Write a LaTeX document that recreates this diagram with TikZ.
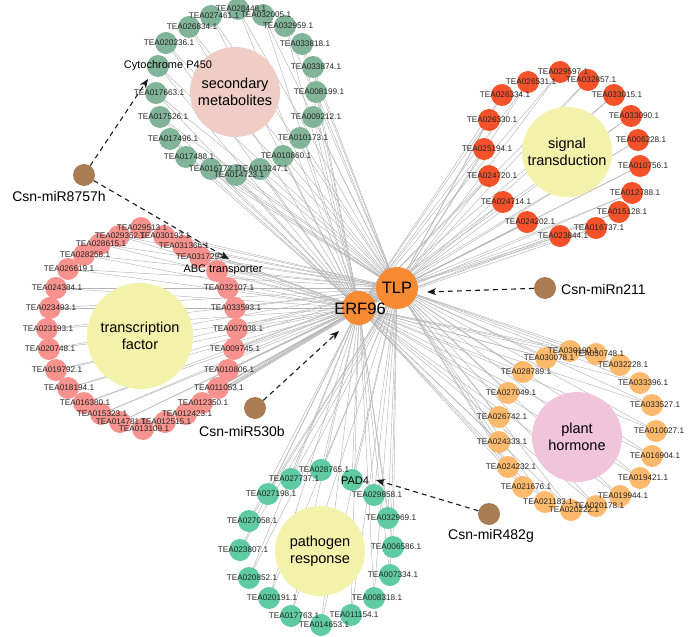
\documentclass[tikz,border=0pt]{standalone}
\usepackage{fontspec}
\setmainfont{Liberation Sans}
\usetikzlibrary{arrows.meta}
\pgfdeclarelayer{background}
\pgfdeclarelayer{foreground}
\pgfsetlayers{background,main,foreground}
\definecolor{cSM}{HTML}{82B49A}
\definecolor{cST}{HTML}{F5512B}
\definecolor{cTF}{HTML}{F8928F}
\definecolor{cPH}{HTML}{FDBA6D}
\definecolor{cPR}{HTML}{5FCBA4}
\definecolor{cHub}{HTML}{F68B34}
\definecolor{cMir}{HTML}{A97C54}
\definecolor{cYel}{HTML}{F3F2AA}
\definecolor{cPinkA}{HTML}{EFCCC6}
\definecolor{cPinkB}{HTML}{F0C5DC}
\definecolor{cEdge}{HTML}{B4B4B4}
\tikzset{
  gene/.style={circle,inner sep=0pt,minimum size=22pt,draw=none},
  glab/.style={font=\fontsize{8.2}{9}\selectfont,text=black!85,inner sep=0pt},
  biglab/.style={font=\fontsize{11}{12}\selectfont,text=black,inner sep=0pt},
  cat/.style={circle,inner sep=0pt,minimum size=90pt,align=center,font=\fontsize{14.5}{17}\selectfont},
  hub/.style={circle,fill=cHub,inner sep=0pt},
  hublab/.style={font=\fontsize{16.5}{18}\selectfont,inner sep=0pt},
  mir/.style={circle,fill=cMir,minimum size=22pt,inner sep=0pt},
  mirlab/.style={font=\fontsize{14}{16}\selectfont,inner sep=0pt},
  edge/.style={draw=cEdge,line width=0.45pt},
  reg/.style={draw=black!90,line width=1.1pt,dash pattern=on 5pt off 4pt,-{Stealth[length=9pt,width=7pt,inset=2.5pt]}}
}
\begin{document}
\begin{tikzpicture}[x=1pt,y=-1pt]
\useasboundingbox (0,0) rectangle (700,636);

% hubs
\node[hub,minimum size=42pt] (TLP) at (397,288) {};
\node[hub,minimum size=34pt] (ERF) at (359,308) {};
\begin{pgfonlayer}{foreground}
\node[hublab] (TLP-l) at (397,288) {TLP};
\node[hublab] (ERF-l) at (360,309) {ERF96};
\end{pgfonlayer}

% category circles
\node[cat,fill=cPinkA] (catSM) at (235,92) {secondary\\metabolites};
\node[cat,fill=cYel] (catST) at (567,152) {signal\\transduction};
\node[cat,fill=cYel,minimum size=106pt] (catTF) at (140,336) {transcription\\factor};
\node[cat,fill=cPinkB] (catPH) at (577,437) {plant\\hormone};
\node[cat,fill=cYel] (catPR) at (320,551) {pathogen\\response};

% secondary metabolites
\foreach \n/\x/\y/\t in {sm1/238/9/TEA028448.1, sm2/211/16/TEA027461.1, sm3/189/27/TEA026834.1, sm4/166/43/TEA020236.1, sm5/156/93/TEA017663.1, sm6/160/117/TEA017526.1, sm7/170/139/TEA017496.1, sm8/186/157/TEA017488.1, sm9/211/169/TEA016772.1, sm10/236/175/TEA014723.1, sm11/260/169/TEA013247.1, sm12/283/156/TEA010860.1, sm13/300/138/TEA010173.1, sm14/313/117/TEA009212.1, sm15/316/92/TEA008199.1, sm16/313/67/TEA033874.1, sm17/302/44/TEA033818.1, sm18/285/26/TEA032959.1, sm19/263/15/TEA032005.1}{
  \node[gene,fill=cSM] (\n) at (\x,\y) {};
  \begin{pgfonlayer}{foreground}\node[glab] (\n-l) at ([xshift=3pt]\n.center) {\t};\end{pgfonlayer}
  \begin{pgfonlayer}{background}\draw[edge] (\n.center) -- (TLP.center); \draw[edge] (\n.center) -- (ERF.center);\end{pgfonlayer}
}
\node[gene,fill=cSM] (cyto) at (158,66) {};
\begin{pgfonlayer}{foreground}\node[biglab] (cyto-l) at (168,66) {Cytochrome P450};\end{pgfonlayer}
\begin{pgfonlayer}{background}\draw[edge] (cyto.center) -- (TLP.center); \draw[edge] (cyto.center) -- (ERF.center);\end{pgfonlayer}

% signal transduction
\foreach \n/\x/\y/\t in {st1/560/72/TEA029597.1, st2/588/80/TEA032857.1, st3/614/95/TEA033015.1, st4/631/116/TEA033090.1, st5/638/140/TEA006228.1, st6/640/166/TEA010756.1, st7/632/193/TEA012788.1, st8/619/212/TEA015128.1, st9/596/228/TEA016737.1, st10/560/236/TEA023844.1, st11/527/222/TEA024202.1, st12/503/202/TEA024714.1, st13/489/176/TEA024720.1, st14/484/149/TEA025194.1, st15/489/120/TEA026330.1, st16/502/95/TEA026334.1, st17/528/82/TEA026531.1}{
  \node[gene,fill=cST] (\n) at (\x,\y) {};
  \begin{pgfonlayer}{foreground}\node[glab] (\n-l) at ([xshift=3pt]\n.center) {\t};\end{pgfonlayer}
  \begin{pgfonlayer}{background}\draw[edge] (\n.center) -- (TLP.center); \draw[edge] (\n.center) -- (ERF.center);\end{pgfonlayer}
}

% transcription factor
\foreach \n/\x/\y/\t in {tf1/141/228/TEA029513.1, tf2/119/236/TEA029352.1, tf3/164/236/TEA030193.1, tf4/100/244/TEA028615.1, tf5/183/246/TEA031366.1, tf6/84/255/TEA028258.1, tf7/200/257/TEA031729.1, tf8/68/269/TEA026619.1, tf10/56/288/TEA024384.1, tf11/228/288/TEA032107.1, tf12/50/308/TEA023493.1, tf13/235/308/TEA033593.1, tf14/47/329/TEA023193.1, tf15/237/329/TEA007038.1, tf16/49/349/TEA020748.1, tf17/234/349/TEA009745.1, tf18/56/370/TEA019792.1, tf19/228/370/TEA010806.1, tf20/68/388/TEA018194.1, tf21/218/388/TEA011053.1, tf22/84/403/TEA016380.1, tf23/202/403/TEA012350.1, tf24/101/414/TEA015323.1, tf25/186/414/TEA012423.1, tf26/120/422/TEA014781.1, tf27/165/422/TEA012515.1, tf28/143/429/TEA013109.1}{
  \node[gene,fill=cTF] (\n) at (\x,\y) {};
  \begin{pgfonlayer}{foreground}\node[glab] (\n-l) at ([xshift=1pt]\n.center) {\t};\end{pgfonlayer}
  \begin{pgfonlayer}{background}\draw[edge] (\n.center) -- (TLP.center); \draw[edge] (\n.center) -- (ERF.center);\end{pgfonlayer}
}
\node[gene,fill=cTF] (abc) at (217,271) {};
\begin{pgfonlayer}{foreground}\node[biglab] (abc-l) at (223,270) {ABC transporter};\end{pgfonlayer}
\begin{pgfonlayer}{background}\draw[edge] (abc.center) -- (TLP.center); \draw[edge] (abc.center) -- (ERF.center);\end{pgfonlayer}

% plant hormone
\foreach \n/\x/\y/\t in {ph1/570/351/TEA030190.1, ph2/596/354/TEA030748.1, ph3/620/365/TEA032228.1, ph4/640/383/TEA033396.1, ph5/652/405/TEA033527.1, ph6/656/431/TEA010027.1, ph7/652/456/TEA016904.1, ph8/640/478/TEA019421.1, ph9/620/496/TEA019944.1, ph10/596/506/TEA020178.1, ph11/571/510/TEA020222.1, ph12/545/502/TEA021183.1, ph13/523/487/TEA021676.1, ph14/508/467/TEA024232.1, ph15/499/442/TEA024333.1, ph16/499/417/TEA026742.1, ph17/508/393/TEA027049.1, ph18/523/372/TEA028789.1, ph19/546/358/TEA030078.1}{
  \node[gene,fill=cPH] (\n) at (\x,\y) {};
  \begin{pgfonlayer}{foreground}\node[glab] (\n-l) at ([xshift=3pt]\n.center) {\t};\end{pgfonlayer}
  \begin{pgfonlayer}{background}\draw[edge] (\n.center) -- (TLP.center); \draw[edge] (\n.center) -- (ERF.center);\end{pgfonlayer}
}

% pathogen response
\foreach \n/\x/\y/\t in {pr1/321/470/TEA028765.1, pr3/374/495/TEA029858.1, pr4/388/518/TEA032969.1, pr5/393/547/TEA006586.1, pr6/390/575/TEA007334.1, pr7/374/598/TEA008318.1, pr8/351/615/TEA011154.1, pr9/321/625/TEA014653.1, pr10/291/616/TEA017763.1, pr11/269/598/TEA020191.1, pr12/249/578/TEA020852.1, pr13/240/550/TEA023807.1, pr14/249/521/TEA027058.1, pr15/268/494/TEA027198.1, pr16/291/479/TEA027737.1}{
  \node[gene,fill=cPR] (\n) at (\x,\y) {};
  \begin{pgfonlayer}{foreground}\node[glab] (\n-l) at ([xshift=3pt]\n.center) {\t};\end{pgfonlayer}
  \begin{pgfonlayer}{background}\draw[edge] (\n.center) -- (TLP.center); \draw[edge] (\n.center) -- (ERF.center);\end{pgfonlayer}
}
\node[gene,fill=cPR] (pad) at (352,480) {};
\begin{pgfonlayer}{foreground}\node[biglab] (pad-l) at (355,481) {PAD4};\end{pgfonlayer}
\begin{pgfonlayer}{background}\draw[edge] (pad.center) -- (TLP.center); \draw[edge] (pad.center) -- (ERF.center);\end{pgfonlayer}

% miRNAs
\node[mir] (m8757) at (84,175) {};
\node[mirlab] (m8757-l) at (59,196) {Csn-miR8757h};
\node[mir] (m211) at (545,288) {};
\node[mirlab,anchor=west] (m211-l) at (561,289) {Csn-miRn211};
\node[mir] (m530) at (255,408) {};
\node[mirlab] (m530-l) at (242,431) {Csn-miR530b};
\node[mir] (m482) at (489,514) {};
\node[mirlab] (m482-l) at (491,536) {Csn-miR482g};

\coordinate (tCyto) at (148,79);
\coordinate (tAbc) at (229,259);
\coordinate (tTlp) at (427,292);
\coordinate (tErf) at (339,331);
\coordinate (tPad) at (376,480);
\draw[reg] (m8757) -- (tCyto);
\draw[reg] (m8757) -- (tAbc);
\draw[reg] (m211) -- (tTlp);
\draw[reg] (m530) -- (tErf);
\draw[reg] (m482) -- (tPad);
\end{tikzpicture}
\end{document}
